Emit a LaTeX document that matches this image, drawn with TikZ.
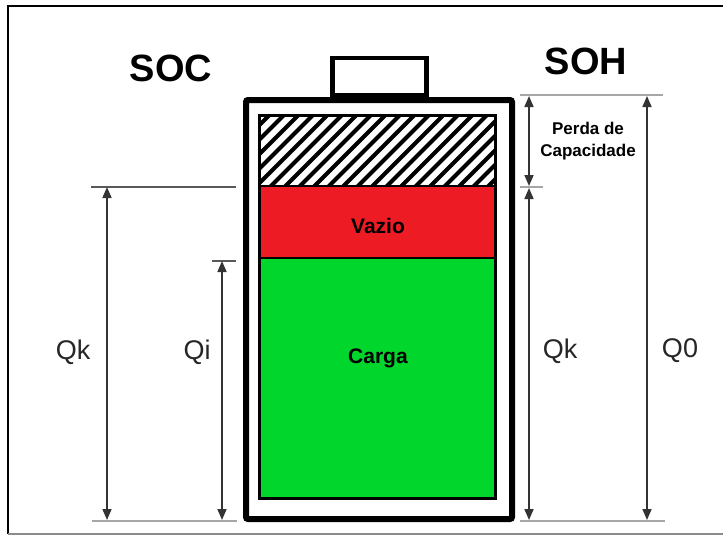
\documentclass[tikz,border=0pt]{standalone}
\usepackage{fontspec}
\setmainfont{Liberation Sans}
\usetikzlibrary{arrows.meta}
\definecolor{vred}{RGB}{237,28,36}
\definecolor{vgreen}{RGB}{0,214,44}
\tikzset{
  dim/.style={draw=black!80, line width=1.6pt, {Triangle[length=11pt,width=9pt]}-{Triangle[length=11pt,width=9pt]}},
  extline/.style={draw=black!35, line width=2.5pt},
  bigtitle/.style={font=\fontsize{38}{40}\selectfont\bfseries},
  qlab/.style={font=\fontsize{27}{30}\selectfont, text=black!85},
  inlab/.style={font=\fontsize{21}{24}\selectfont\bfseries},
  boxpart/.style={minimum width=236pt, anchor=north west, inner sep=0pt, outer sep=0pt},
}
\begin{document}
\begin{tikzpicture}[x=1pt,y=-1pt]
\useasboundingbox (0,0) rectangle (723,536);
% frame
\draw[line width=2pt] (725,6) -- (8,6) -- (8,534);
\draw[black!45, line width=2pt] (8,534) -- (725,534);

% battery body
\node[draw, line width=4.5pt, minimum width=94pt, minimum height=37pt, anchor=south west, inner sep=0pt] (term) at (330,97) {};
\node[draw, line width=6pt, rounded corners=2pt, minimum width=266pt, minimum height=419pt, anchor=north west, inner sep=0pt] (body) at (243,97) {};

% hatched region
\node[boxpart, minimum height=71pt, fill=white] (hatch) at (259,115) {};
\begin{scope}
  \clip (hatch.north west) rectangle (hatch.south east);
  \foreach \x in {180,194.5,...,520} {
    \draw[line width=4pt] (\x,190) -- (\x+75,115);
  }
\end{scope}
\node[boxpart, minimum height=72pt, fill=vred] (vazio) at (259,186) {};
\node[boxpart, minimum height=240pt, fill=vgreen] (carga) at (259,258) {};
\draw[line width=2.5pt] (hatch.south west) -- (hatch.south east);
\draw[line width=2.5pt] (carga.north west) -- (carga.north east);
\draw[line width=3pt] (hatch.north west) rectangle (carga.south east);

\node[inlab] (tvazio) at (378,226) {Vazio};
\node[inlab] (tcarga) at (378,358) {Carga};

% titles
\node[bigtitle] (soc) at (171,68) {SOC};
\node[bigtitle] (soh) at (586,61) {SOH};

% extension lines
\coordinate (lt1) at (91,187);  \coordinate (lt2) at (236,187);
\coordinate (li1) at (212,261); \coordinate (li2) at (236,261);
\coordinate (lb1) at (92,521);  \coordinate (lb2) at (237,521);
\coordinate (rt1) at (520,95);  \coordinate (rt2) at (663,95);
\coordinate (rm1) at (520,187); \coordinate (rm2) at (543,187);
\coordinate (rb1) at (520,521); \coordinate (rb2) at (665,521);
\draw[draw=black!65, line width=1.5pt] (lt1) -- (lt2);
\draw[draw=black!65, line width=1.5pt] (li1) -- (li2);
\draw[extline] (lb1) -- (lb2);
\draw[extline] (rt1) -- (rt2);
\draw[extline] (rm1) -- (rm2);
\draw[extline] (rb1) -- (rb2);

% dimension arrows
\coordinate (qk1a) at (107,187); \coordinate (qk1b) at (107,520);
\coordinate (qia) at (222,261);  \coordinate (qib) at (222,520);
\coordinate (pa) at (529,96);    \coordinate (pb) at (529,186);
\coordinate (qk2a) at (529,188); \coordinate (qk2b) at (529,520);
\coordinate (q0a) at (647,96);   \coordinate (q0b) at (647,520);
\draw[dim] (qk1a) -- (qk1b);
\draw[dim] (qia) -- (qib);
\draw[dim] (pa) -- (pb);
\draw[dim] (qk2a) -- (qk2b);
\draw[dim] (q0a) -- (q0b);

% labels
\node[qlab] (lqk1) at (73,352) {Qk};
\node[qlab] (lqi) at (197,352) {Qi};
\node[qlab] (lqk2) at (560,351) {Qk};
\node[qlab] (lq0) at (680,351) {Q0};
\node[align=center, font=\fontsize{17}{22}\selectfont\bfseries] (perda) at (588,141) {Perda de\\Capacidade};
\end{tikzpicture}
\end{document}
